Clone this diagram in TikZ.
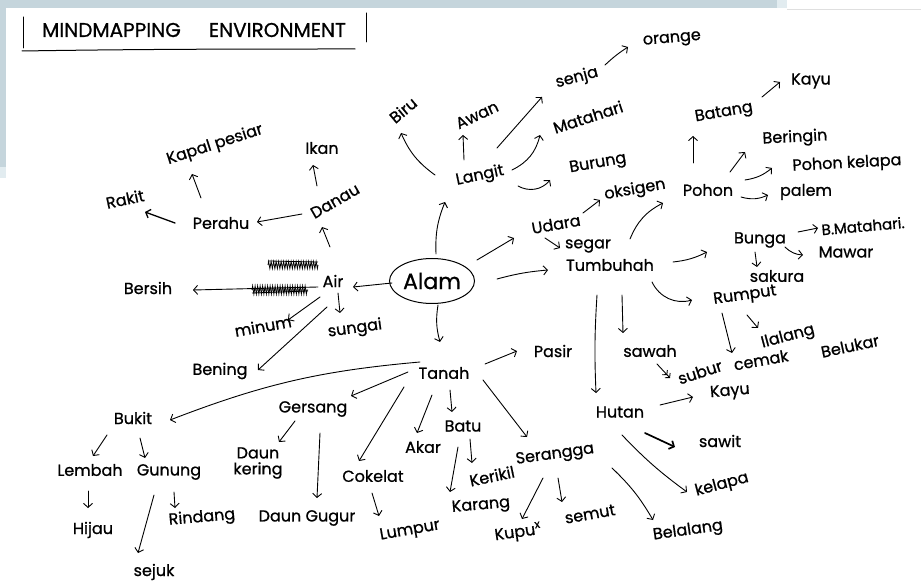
\documentclass[tikz,border=0pt]{standalone}
\usepackage{fontspec}
\setmainfont{Poppins}[FakeBold=0.8]
\usetikzlibrary{arrows.meta,shapes.geometric,decorations.pathmorphing}
\definecolor{stripc}{HTML}{C5D5DC}
\definecolor{stripl}{HTML}{E2ECF0}
\begin{document}
\begin{tikzpicture}[x=1pt,y=1pt,
  w/.style={font=\fontsize{16}{18}\selectfont, inner sep=1pt},
  ar/.style={line width=0.9pt, line cap=round, -{Straight Barb[length=4pt,width=9pt]}},
  dbl/.style={line width=0.9pt, line cap=round, -{Straight Barb[length=3pt,width=7pt]Straight Barb[length=3pt,width=7pt]}},
  ln/.style={line width=1pt, line cap=round}]
\useasboundingbox (0,0) rectangle (921,-585);
\fill[white] (0,0) rectangle (921,-585);
% background strips
\fill[stripc] (0,0) rectangle (777,-8);
\fill[stripl] (777,0) rectangle (787,-8);
\fill[stripc] (0,0) rectangle (6,-167);
\fill[stripl] (0,-167) rectangle (6,-178);
\draw[gray!25, line width=0.6pt] (787,-9) -- (921,-9);

% title
\node[font=\fontsize{20}{22}\selectfont, inner sep=0pt] (title) at (194,-30) {MINDMAPPING\hspace{1.4em}ENVIRONMENT};
\draw[ln] (23,-17) -- (23,-48);
\draw[ln] (366,-13) -- (366,-42);
\draw[ln] (22,-51) .. controls (150,-49) and (250,-49) .. (355,-49);

% nodes
\node[draw, ellipse, line width=1pt, minimum width=85pt, minimum height=45pt, font=\fontsize{22}{24}\selectfont, inner sep=0pt] (alam) at (432,-281) {Alam};
\node[w] (air) at (333,-281) {Air};
\node[w] (bersih) at (148,-288) {Bersih};
\node[w, rotate=30] (danau) at (335,-201) {Danau};
\node[w] (perahu) at (221,-223) {Perahu};
\node[w, rotate=12] (rakit) at (125,-199) {Rakit};
\node[w, rotate=18] (kapal) at (215,-145) {Kapal pesiar};
\node[w] (ikan) at (322,-148) {Ikan};
\node[w, rotate=10] (minum) at (263,-326) {minum};
\node[w, rotate=8] (sungai) at (355,-329) {sungai};
\node[w] (bening) at (220,-371) {Bening};
\node[w, rotate=12] (langit) at (480,-176) {Langit};
\node[w, rotate=40] (biru) at (403,-110) {Biru};
\node[w, rotate=25] (awan) at (477,-115) {Awan};
\node[w, rotate=15] (senja) at (577,-78) {senja};
\node[w, rotate=5] (orange) at (672,-40) {orange};
\node[w, rotate=18] (matahari) at (588,-117) {Matahari};
\node[w, rotate=10] (burung) at (598,-164) {Burung};
\node[w, rotate=10] (udara) at (556,-224) {Udara};
\node[w, rotate=10] (oksigen) at (635,-190) {oksigen};
\node[w] (segar) at (588,-246) {segar};
\node[w] (tumb) at (610,-265) {Tumbuhah};
\node[w] (pohon) at (708,-190) {Pohon};
\node[w, rotate=10] (batang) at (724,-113) {Batang};
\node[w] (kayua) at (811,-81) {Kayu};
\node[w, rotate=3] (beringin) at (795,-138) {Beringin};
\node[w, rotate=3] (pkelapa) at (847,-164) {Pohon kelapa};
\node[w] (palem) at (806,-192) {palem};
\node[w] (bunga) at (760,-240) {Bunga};
\node[w, rotate=5, font=\fontsize{15}{17}\selectfont] (bmat) at (863,-226) {B.Matahari.};
\node[w] (mawar) at (846,-252) {Mawar};
\node[w] (sakura) at (777,-276) {sakura};
\node[w, rotate=8] (rumput) at (745,-296) {Rumput};
\node[w, rotate=15] (ilalang) at (788,-337) {Ilalang};
\node[w, rotate=18] (subur) at (700,-372) {subur};
\node[w, rotate=10] (cemak) at (761,-360) {cemak};
\node[w, rotate=12] (belukar) at (850,-346) {Belukar};
\node[w] (sawah) at (650,-351) {sawah};
\node[w] (hutan) at (620,-412) {Hutan};
\node[w, rotate=5] (kayub) at (730,-392) {Kayu};
\node[w] (sawit) at (720,-441) {sawit};
\node[w, rotate=15] (kelapa) at (722,-485) {kelapa};
\node[w] (tanah) at (444,-373) {Tanah};
\node[w] (pasir) at (553,-351) {Pasir};
\node[w, rotate=8] (serangga) at (555,-455) {Serangga};
\node[w, rotate=8] (belalang) at (688,-531) {Belalang};
\node[w, rotate=8] (kupu) at (518,-533) {Kupu\textsuperscript{x}};
\node[w, rotate=10] (semut) at (590,-514) {semut};
\node[w] (bukit) at (133,-418) {Bukit};
\node[w] (gersang) at (313,-409) {Gersang};
\node[w] (cokelat) at (373,-476) {Cokelat};
\node[w, rotate=10] (lumpur) at (410,-531) {Lumpur};
\node[w] (akar) at (423,-447) {Akar};
\node[w] (batu) at (463,-426) {Batu};
\node[w, rotate=12] (kerikil) at (492,-476) {Kerikil};
\node[w, rotate=5] (karang) at (481,-506) {Karang};
\node[w, align=center, font=\fontsize{16}{16}\selectfont] (daunk) at (258,-463) {Daun\\kering};
\node[w] (daung) at (307,-518) {Daun Gugur};
\node[w] (lembah) at (90,-470) {Lembah};
\node[w] (gunung) at (169,-472) {Gunung};
\node[w] (hijau) at (93,-530) {Hijau};
\node[w, rotate=5] (rindang) at (202,-518) {Rindang};
\node[w] (sejuk) at (154,-572) {sejuk};

% crossed-out words near Air
\draw[line width=0.8pt, decorate, decoration={zigzag, amplitude=3.5pt, segment length=2.5pt}] (268,-265) -- (318,-265);
\draw[line width=0.8pt] (268,-261) -- (318,-262);
\draw[line width=0.8pt, decorate, decoration={zigzag, amplitude=4pt, segment length=2.5pt}] (252,-290) -- (308,-290);
\draw[line width=0.8pt] (252,-293) -- (308,-291);

% connectors
\draw[ar] ([shift={(-40,-2)}]alam.center) -- ([shift={(20,-6)}]air.center);
\draw[ar] ([shift={(-15,-6)}]air.center) -- ([shift={(45,-2)}]bersih.center);
\draw[ar] ([shift={(-3,34)}]air.center) -- ([shift={(-13,-26)}]danau.center);
\draw[ar] ([shift={(-33,-13)}]danau.center) -- ([shift={(36,1)}]perahu.center);
\draw[ar, line width=1.3pt] ([shift={(-46,0)}]perahu.center) -- ([shift={(20,-13)}]rakit.center);
\draw[ar] ([shift={(-20,25)}]perahu.center) -- ([shift={(-23,-29)}]kapal.center);
\draw[ar] ([shift={(-18,15)}]danau.center) -- ([shift={(-9,-17)}]ikan.center);
\draw[ar] ([shift={(-13,-16)}]air.center) -- ([shift={(25,6)}]minum.center);
\draw[ar] ([shift={(5,-12)}]air.center) -- ([shift={(-15,16)}]sungai.center);
\draw[ar] ([shift={(-6,-26)}]air.center) -- ([shift={(38,1)}]bening.center);

\draw[ar] ([shift={(4,27)}]alam.center) to[bend left=12] ([shift={(-35,-26)}]langit.center);
\draw[ar] ([shift={(-45,1)}]langit.center) to[bend left=15] ([shift={(-2,-23)}]biru.center);
\draw[ar] ([shift={(-16,16)}]langit.center) -- ([shift={(-14,-20)}]awan.center);
\draw[ar] ([shift={(17,28)}]langit.center) -- ([shift={(-35,-19)}]senja.center);
\draw[ar] ([shift={(28,13)}]senja.center) to[bend left=5] ([shift={(-44,-7)}]orange.center);
\draw[ar] ([shift={(32,6)}]langit.center) to[bend right=25] ([shift={(-48,-18)}]matahari.center);
\draw[ar] ([shift={(38,-10)}]langit.center) to[bend right=40] ([shift={(-48,-16)}]burung.center);

\draw[ar] ([shift={(45,21)}]alam.center) -- ([shift={(-42,-14)}]udara.center);
\draw[ar] ([shift={(27,11)}]udara.center) -- ([shift={(-35,-10)}]oksigen.center);
\draw[ar] ([shift={(-11,-14)}]udara.center) -- ([shift={(-28,-2)}]segar.center);
\draw[ar] ([shift={(65,2)}]alam.center) to[bend left=5] ([shift={(-62,-5)}]tumb.center);
\draw[ar] ([shift={(20,26)}]tumb.center) to[bend left=20] ([shift={(-45,-13)}]pohon.center);
\draw[ar] ([shift={(-15,27)}]pohon.center) -- ([shift={(-31,-23)}]batang.center);
\draw[ar] ([shift={(38,16)}]batang.center) -- ([shift={(-31,-1)}]kayua.center);
\draw[ar] ([shift={(22,18)}]pohon.center) -- ([shift={(-50,-14)}]beringin.center);
\draw[ar] ([shift={(37,10)}]pohon.center) to[bend right=15] ([shift={(-75,-4)}]pkelapa.center);
\draw[ar] ([shift={(33,-7)}]pohon.center) to[bend right=20] ([shift={(-38,-3)}]palem.center);
\draw[ar] ([shift={(63,3)}]tumb.center) to[bend right=10] ([shift={(-53,-12)}]bunga.center);
\draw[ar] ([shift={(38,8)}]bunga.center) -- ([shift={(-45,-2)}]bmat.center);
\draw[ar] ([shift={(25,-7)}]bunga.center) to[bend right=20] ([shift={(-43,-3)}]mawar.center);
\draw[ar] ([shift={(-5,-12)}]bunga.center) -- ([shift={(-20,9)}]sakura.center);
\draw[ar] ([shift={(42,-17)}]tumb.center) to[bend right=40] ([shift={(-53,-4)}]rumput.center);
\draw[ar] ([shift={(-23,-17)}]rumput.center) -- ([shift={(-29,7)}]cemak.center);
\draw[ar] ([shift={(2,-19)}]rumput.center) -- ([shift={(-30,9)}]ilalang.center);
\draw[ar] ([shift={(12,-30)}]tumb.center) -- ([shift={(-27,18)}]sawah.center);
\draw[dbl] ([shift={(7,-13)}]sawah.center) -- ([shift={(-30,-6)}]subur.center);
\draw[ar] ([shift={(-13,-30)}]tumb.center) to[bend right=3] ([shift={(-24,19)}]hutan.center);
\draw[ar] ([shift={(40,7)}]hutan.center) -- ([shift={(-37,-5)}]kayub.center);
\draw[ar, line width=1.7pt] ([shift={(25,-21)}]hutan.center) -- ([shift={(-45,-6)}]sawit.center);
\draw[ar] ([shift={(2,-23)}]hutan.center) to[bend right=5] ([shift={(-35,-7)}]kelapa.center);

\draw[ar] ([shift={(6,-24)}]alam.center) to[bend right=12] ([shift={(-4,31)}]tanah.center);
\draw[ar] ([shift={(41,9)}]tanah.center) -- ([shift={(-36,0)}]pasir.center);
\draw[ar] ([shift={(-24,11)}]tanah.center) to[bend right=8] ([shift={(37,-2)}]bukit.center);
\draw[ar] ([shift={(-36,1)}]tanah.center) -- ([shift={(38,13)}]gersang.center);
\draw[ar] ([shift={(-40,-14)}]tanah.center) -- ([shift={(-14,15)}]cokelat.center);
\draw[ar] ([shift={(-1,-17)}]cokelat.center) -- ([shift={(-31,15)}]lumpur.center);
\draw[ar] ([shift={(-12,-22)}]tanah.center) -- ([shift={(-6,14)}]akar.center);
\draw[ar] ([shift={(6,-17)}]tanah.center) -- ([shift={(-11,14)}]batu.center);
\draw[ar] ([shift={(7,-13)}]batu.center) -- ([shift={(-20,13)}]kerikil.center);
\draw[ar] ([shift={(-5,-21)}]batu.center) -- ([shift={(-31,14)}]karang.center);
\draw[ar] ([shift={(39,-7)}]tanah.center) -- ([shift={(-28,18)}]serangga.center);
\draw[ar] ([shift={(-12,-23)}]serangga.center) -- ([shift={(4,14)}]kupu.center);
\draw[ar] ([shift={(3,-23)}]serangga.center) -- ([shift={(-28,12)}]semut.center);
\draw[ar] ([shift={(57,-13)}]serangga.center) to[bend left=8] ([shift={(-35,11)}]belalang.center);
\draw[ar] ([shift={(-18,-12)}]gersang.center) -- ([shift={(21,21)}]daunk.center);
\draw[ar] ([shift={(7,-24)}]gersang.center) -- ([shift={(10,20)}]daung.center);
\draw[ar] ([shift={(-26,-17)}]bukit.center) -- ([shift={(3,14)}]lembah.center);
\draw[ar] ([shift={(7,-20)}]bukit.center) -- ([shift={(-24,14)}]gunung.center);
\draw[ar] ([shift={(-2,-21)}]lembah.center) -- ([shift={(-5,22)}]hijau.center);
\draw[ar] ([shift={(5,-20)}]gunung.center) -- ([shift={(-27,10)}]rindang.center);
\draw[ar] ([shift={(-15,-23)}]gunung.center) -- ([shift={(-16,19)}]sejuk.center);
\end{tikzpicture}
\end{document}
